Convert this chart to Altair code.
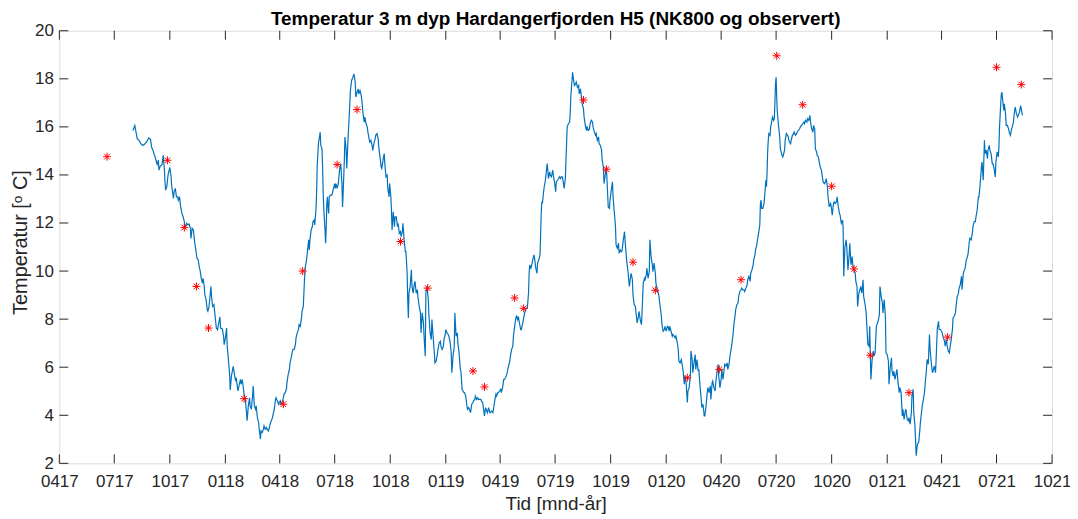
import altair as alt
import pandas as pd

# ---------------- data ----------------
# Day offsets are counted from REF_DATE (2017-10-01)
REF_DATE = "2017-10-01"

model_day_1 = [-61,-58,-56,-54,-51,-48,-45,-41,-38,-35,-32,-30,-28,-26,-24,-23,-21,-19,-18,-16,-13,-11,-9,-8,-7,-5,-3,0,2,3,6,7,9,11,13,14,16,18,20,22,24,25,28,30,32,34,35,37,39,41,43,45,47,49,50,52,54,55,57,58,60,62,63,65,67,68,69,71,73,75,77,79,81,83,84,87,89,90,92,94,95,97,99,100,102,104]
model_temp_1 = [15.85,16.06,15.78,15.51,15.44,15.30,15.23,15.30,15.40,15.54,15.48,15.14,15.03,14.86,14.72,14.61,14.44,14.61,14.20,14.36,14.43,14.82,14.20,13.71,13.37,13.51,13.99,14.31,13.95,13.57,13.02,13.30,13.44,13.09,13.09,12.95,13.09,12.67,12.40,12.26,12.06,11.78,11.99,11.92,11.96,11.78,11.36,11.78,11.71,11.23,10.88,10.53,10.47,10.12,10.05,9.70,9.50,9.70,9.36,9.02,8.81,8.39,8.33,8.53,9.08,9.36,8.95,8.53,8.60,8.12,7.63,7.56,7.84,8.09,7.63,7.59,7.29,6.94,7.22,7.63,6.87,6.32,5.70,5.05,5.63,5.91]

model_day_2 = [105,107,109,110,112,113,115,117,118,120,122,123,125,127,128,130,132,133,135,137,138,140,142,143,145,147,148,150,151,153,155,156,158,160,161,163,165,166,168,170,171,173,175,176,178,180,181,183,184,186,188,189,191,193,194,196,198,199,201,203,204,206,208,209,211,213,214,216,218,219,221,222,223,224,226,227,229,230,231,232,234,235,236,237,239,240,241,242,243,244,246,247,249,250,252,253,254,255,257,258,259,260,261,262,263,264,266,268,269,271,273,274,275,277,279,280,281,283,285,286,287,289,290,292,293,295,297]
model_temp_2 = [6.04,5.70,5.42,5.56,5.15,5.01,5.29,5.49,5.29,5.49,5.08,4.87,4.66,4.11,3.77,4.39,4.73,4.39,4.25,4.80,5.22,4.39,4.25,4.39,3.90,3.70,3.42,3.01,3.35,3.28,3.42,3.56,3.42,3.49,3.42,3.35,3.49,3.63,3.77,3.90,4.04,4.25,4.66,4.73,4.60,4.46,4.53,4.60,4.46,4.53,4.73,4.87,4.94,5.08,5.36,5.70,5.91,6.18,6.39,6.67,6.74,6.74,6.94,7.22,7.43,7.56,7.77,7.70,8.05,8.32,8.53,9.08,9.64,10.12,10.40,10.60,11.09,11.30,10.88,11.30,11.71,11.78,11.85,12.06,12.12,11.92,12.26,12.54,13.23,14.33,15.30,15.44,15.78,15.23,15.09,14.33,13.23,12.54,11.71,11.16,11.85,12.81,13.09,12.67,12.40,13.09,13.16,13.16,13.23,13.44,13.64,13.44,13.64,13.44,13.64,13.92,14.20,14.47,13.64,12.67,13.23,14.61,15.58,15.03,14.27,15.44,16.41]

model_day_3 = [299,301,303,305,307,308,310,312,313,315,317,318,320,322,323,325,327,328,330,331,333,335,336,338,340,341,343,345,346,348,350,351,353,355,356,358,360,361,363,364,366,367,368,370,372,373,375,377,378,380,382,383,385,386,388,390,391,393,394,395,396,398,400,401,403,405,406,408,410,411,413,415,416,418,420,421,423,424,426,428,429,431,433,434,436,438,439,441,443,444,446,448,449,451,453,454,456,457,459,461,462,464,466,467,469,471,472,474,476,477,479,481,482,484]
model_temp_3 = [17.51,17.93,18.06,18.20,17.86,17.24,17.44,17.58,17.37,17.51,17.30,17.10,16.54,16.20,16.41,16.13,15.99,15.78,15.51,15.37,15.44,15.23,15.02,15.30,15.51,15.65,15.72,15.51,15.16,14.75,14.33,14.27,14.61,14.89,14.47,13.92,13.99,13.44,13.09,13.64,13.09,12.54,11.71,12.47,11.85,12.26,12.26,11.85,11.99,11.57,11.64,11.43,11.64,11.99,11.30,10.81,10.81,9.91,8.81,8.05,9.08,9.36,10.05,9.36,9.08,9.50,9.57,9.08,9.22,8.88,8.53,8.26,7.43,8.26,7.84,7.29,6.46,9.08,9.36,8.81,8.19,7.43,7.15,7.98,7.29,6.60,6.18,6.25,6.53,6.74,7.01,7.08,6.87,6.74,6.87,7.15,7.36,7.56,7.43,7.36,7.29,7.08,6.60,5.77,6.46,6.87,8.26,7.29,7.43,7.01,6.60,5.91,5.84,5.08]

model_day_4 = [487,488,490,492,493,495,497,498,500,502,503,505,506,508,510,511,513,515,516,518,520,521,523,525,526,528,530,531,533,535,536,538,540,541,543,544,546,548,549,551,553,554,556,558,559,561,563,564,566,568,569,571,573,574,576,577,579,581,582,584,586,587,589,591,592,594,595,596,598,600,601,603,604,606,608,609,611,613,614,615,616,617,619,620,622,624,625,627,629,630,632,634,635,637,639,640,642,644,645,647,648,650,652,653,655,657,658,660,662,663,664,666,667,668,670,672]
model_temp_4 = [4.94,4.94,4.80,4.39,4.25,4.32,4.18,4.11,4.46,4.53,4.60,4.66,4.80,4.66,4.73,4.66,4.66,4.66,4.60,4.53,4.18,3.97,4.32,4.18,4.11,4.32,4.11,4.11,4.18,4.11,4.25,4.60,4.87,4.80,4.94,4.94,5.01,5.08,4.94,5.15,5.49,5.49,5.56,5.70,5.84,6.05,6.25,6.46,6.74,6.87,7.29,7.70,8.05,8.12,7.98,8.12,7.84,7.56,7.56,7.77,8.05,8.19,8.40,8.46,8.46,9.08,9.91,10.26,10.12,10.33,10.47,10.67,10.53,10.12,9.91,10.33,10.47,10.67,11.50,12.40,12.88,12.81,13.30,13.51,13.78,14.27,14.47,13.85,14.13,13.99,13.92,14.20,13.99,13.71,13.30,13.71,13.78,13.85,13.92,13.85,13.92,13.92,13.64,13.44,13.85,15.30,15.99,16.13,16.20,16.54,17.24,17.93,18.27,18.06,17.72,17.79]

model_day_5 = [673,675,677,678,680,682,683,685,686,688,690,691,693,695,696,698,700,701,703,705,706,708,710,711,713,715,716,718,719,721,723,724,726,728,729,731,733,734,736,738,739,741,743,744,746,748,749,751,753,754,756,757,759,761,762,764,766,767,769,771,772,774,776,777,779,781,782,784,786,787,789,790,792,794,795,797,799,800,802,804,805,807,809,810,812,814,815,817,819,820,822,824,825,827,828,830,832,833,835,837,838,840,842,843,845,847,848,850,852,853,855,857,858,860]
model_temp_5 = [17.86,17.65,17.72,17.37,17.58,17.17,16.96,16.75,16.41,16.06,15.85,15.99,15.85,15.92,16.13,16.27,16.20,15.99,15.78,15.65,15.72,15.44,15.58,15.30,15.23,15.02,14.61,14.33,13.64,13.99,14.33,13.78,12.67,12.61,12.95,13.37,13.71,13.09,12.47,11.85,11.09,10.95,11.16,10.74,10.88,10.81,10.88,11.30,11.64,11.23,10.60,10.33,9.91,9.36,9.57,9.91,9.64,9.02,8.60,8.53,8.26,7.84,8.12,8.32,7.98,7.77,8.26,9.50,9.70,9.64,9.84,10.12,9.70,9.98,11.30,10.60,10.26,9.98,10.33,9.91,9.50,9.22,9.08,8.95,8.53,8.12,7.77,7.50,7.57,7.70,7.50,7.70,7.70,7.50,7.70,7.50,7.29,7.36,7.29,7.22,7.29,7.08,6.74,6.25,6.18,6.32,6.18,5.84,5.29,5.63,5.35,4.53,5.01,5.15]

model_day_6 = [862,863,865,866,868,870,871,873,875,876,878,880,881,883,885,886,888,890,891,893,895,896,898,899,901,903,904,906,908,909,911,913,914,916,918,919,921,923,924,926,928,929,931,933,934,936,937,939,941,942,944,946,947,949,951,952,954,956,957,959,961,962,964,966,967,969,970,972,974,975,977,978,979,980,982,984,985,987,988,989,990,991,992,994,995,996,998,1000,1001,1002,1003,1004,1005,1006,1008,1010,1011,1013,1015,1016,1018,1019,1021,1023,1024,1026,1028,1029,1031,1033,1034,1036,1038,1039,1041,1043,1044,1046]
model_temp_6 = [5.63,6.67,6.32,5.77,6.18,6.53,5.91,6.32,5.84,5.91,5.22,4.66,4.32,4.46,3.97,3.97,4.39,4.94,5.15,4.94,5.22,4.66,5.35,5.42,5.15,5.01,5.35,5.77,6.12,5.63,5.15,5.49,5.91,5.49,5.91,6.12,6.05,6.18,5.91,6.12,6.53,6.67,7.01,7.43,7.77,8.12,8.39,8.60,8.67,8.95,9.15,9.22,9.29,9.22,9.22,9.15,9.29,9.43,9.64,9.78,9.57,9.91,10.05,10.26,10.47,10.67,10.88,11.09,11.43,11.57,11.92,12.81,12.95,12.61,12.61,12.81,13.09,13.78,13.51,14.06,14.96,15.44,15.72,15.65,16.00,16.13,16.41,16.27,16.33,16.96,17.79,18.06,17.24,16.61,16.06,15.58,15.09,14.89,14.75,14.82,15.03,15.44,15.72,15.65,15.58,15.37,15.30,15.44,15.65,15.72,15.79,15.65,15.72,15.79,15.85,15.92,15.99,16.06]

model_day_7 = [1048,1050,1051,1053,1055,1056,1058,1060,1061,1063,1065,1066,1068,1069,1071,1072,1074,1076,1077,1079,1081,1082,1084,1086,1087,1089,1090,1092,1094,1095,1097,1099,1100,1102,1104,1105,1107,1109,1110,1112,1114,1115,1116,1118,1120,1121,1123,1125,1126,1128,1130,1131,1133,1135,1136,1138,1139,1141,1143,1144,1146,1148,1149,1151,1153,1154,1156,1158,1159,1160,1161,1163,1165,1166,1168,1170,1171,1173,1175,1176,1178,1180,1181,1183,1185,1186,1188,1190,1191,1193,1195,1196,1198,1199,1201,1203,1204,1206,1208,1209,1211,1213,1214,1216,1218,1219,1221,1223,1224,1226,1228,1229,1231,1232,1234]
model_temp_7 = [16.13,16.20,16.13,16.27,16.20,16.34,16.27,16.48,16.20,15.92,15.78,16.06,15.92,15.09,14.96,14.82,14.75,14.47,14.33,14.20,13.85,13.71,13.64,13.71,13.85,13.51,13.09,12.67,12.81,12.74,12.33,12.81,12.88,12.81,12.88,13.09,12.67,12.40,12.33,11.99,12.12,11.85,9.78,11.02,11.30,11.02,10.05,10.67,11.16,10.26,10.60,10.26,10.05,9.91,9.57,9.36,8.53,9.08,9.22,9.36,9.08,9.64,8.95,8.67,8.32,7.84,6.94,6.87,7.70,6.60,5.49,6.32,6.67,6.46,6.60,7.70,7.77,7.91,8.19,9.36,8.95,8.67,8.26,8.81,8.12,6.60,6.53,6.25,5.29,5.98,6.39,5.84,5.63,5.84,5.49,5.77,5.91,5.35,4.94,5.15,4.94,3.97,4.25,3.83,4.18,4.25,3.83,3.77,3.90,3.63,4.11,4.80,5.08,4.11,3.56]

model_day_8 = [1236,1238,1240,1241,1243,1245,1246,1248,1250,1251,1253,1254,1256,1258,1259,1261,1263,1264,1266,1268,1269,1271,1273,1274,1276,1278,1279,1281,1283,1284,1286,1287,1289,1291,1292,1294,1296,1297,1299,1301,1302,1304,1306,1307,1309,1311,1312,1314,1316,1317,1319,1321,1322,1324,1325,1327,1329,1330,1332,1334,1335,1337,1339,1340,1342,1344,1345,1347,1349,1350,1352,1354,1355,1357,1358,1360,1362,1363,1365,1367,1368,1370,1372,1373,1374,1376,1377,1378,1379,1381,1382,1384,1385,1387,1389,1390,1392,1394,1395,1397,1399,1400,1402,1404,1405,1407,1409,1410,1412]
model_temp_8 = [2.32,2.80,2.87,3.08,3.70,4.18,4.39,4.66,5.01,5.35,5.91,6.32,6.12,7.36,6.74,6.18,5.77,5.84,6.05,5.77,6.32,7.63,7.91,7.57,7.57,7.50,7.43,7.22,7.08,6.88,7.15,6.94,6.67,6.60,6.81,7.15,7.57,8.05,8.12,8.26,8.53,8.95,9.08,9.29,9.43,9.78,9.22,9.91,10.05,10.12,10.47,10.60,10.74,11.23,11.37,11.30,11.57,11.85,12.06,12.06,12.26,12.54,13.09,13.09,13.64,14.33,14.54,13.78,15.44,14.89,15.03,14.68,15.03,15.23,15.03,14.89,14.47,14.47,14.27,13.92,14.54,14.96,14.75,15.16,15.99,16.96,17.37,17.44,17.17,16.68,16.96,16.55,16.06,16.06,15.92,15.78,15.65,15.92,15.99,16.20,16.68,16.82,16.55,16.41,16.48,16.61,16.89,16.75,16.48]

# Observations (red asterisks)
obs_day = [-104,-4,24,44,64,123,188,220,277,310,382,427,502,521,571,586,685,723,767,804,857,910,946,1005,1048,1096,1133,1160,1224,1288,1369,1410]
obs_temp = [14.76,14.61,11.81,9.36,7.63,4.69,4.46,10.00,14.43,16.72,11.23,9.29,5.84,5.18,8.88,8.45,17.12,14.24,10.37,9.20,5.56,5.91,9.64,18.96,16.92,13.53,10.09,6.50,4.94,7.25,18.48,17.76]

# Axis ticks
x_tick_dates = ["2017-04-01","2017-07-01","2017-10-01","2018-01-01","2018-04-01","2018-07-01",
                "2018-10-01","2019-01-01","2019-04-01","2019-07-01","2019-10-01","2020-01-01",
                "2020-04-01","2020-07-01","2020-10-01","2021-01-01","2021-04-01","2021-07-01",
                "2021-10-01"]
y_tick_values = [2, 4, 6, 8, 10, 12, 14, 16, 18, 20]

TITLE = "Temperatur 3 m dyp Hardangerfjorden H5 (NK800 og observert)"
X_TITLE = "Tid [mnd-år]"
Y_TITLE = "Temperatur [ᵒ C]"

# ---------------- build tables ----------------
ref = pd.Timestamp(REF_DATE)
model_days = (model_day_1 + model_day_2 + model_day_3 + model_day_4 +
              model_day_5 + model_day_6 + model_day_7 + model_day_8)
model_temps = (model_temp_1 + model_temp_2 + model_temp_3 + model_temp_4 +
               model_temp_5 + model_temp_6 + model_temp_7 + model_temp_8)
model = pd.DataFrame({"Tid": ref + pd.to_timedelta(model_days, unit="D"),
                      "Temperatur": model_temps})
obs = pd.DataFrame({"Tid": ref + pd.to_timedelta(obs_day, unit="D"),
                    "Temperatur": obs_temp})
xt = pd.DataFrame({"Tid": pd.to_datetime(x_tick_dates)})
yt = pd.DataFrame({"Temperatur": y_tick_values})


def dt(s):
    t = pd.Timestamp(s)
    return alt.DateTime(year=t.year, month=t.month, date=t.day)


FONT = "Liberation Sans, Arial, Helvetica, sans-serif"
AXC = "#262626"
W, H = 996, 434
TICK = 9

xscale = alt.Scale(domain=[dt(x_tick_dates[0]), dt(x_tick_dates[-1])], nice=False)
yscale = alt.Scale(domain=[y_tick_values[0], y_tick_values[-1]], nice=False, zero=False)

x_axis = alt.Axis(values=[dt(d) for d in x_tick_dates], format="%m%y",
                  labelFlush=False, labelOverlap=False, ticks=False, tickSize=0,
                  domain=False, grid=False, labelFontSize=17, labelPadding=10,
                  labelColor=AXC, labelFont=FONT,
                  title=X_TITLE, titleFontSize=19, titleFontWeight="normal",
                  titleFont=FONT, titleColor=AXC, titleY=46,
                  titleBaseline="alphabetic")
y_axis = alt.Axis(values=y_tick_values, ticks=False, tickSize=0, domain=False,
                  grid=False, labelFontSize=17, labelPadding=6, labelColor=AXC,
                  labelFont=FONT,
                  title=Y_TITLE, titleFontSize=20, titleFontWeight="normal",
                  titleFont=FONT, titleColor=AXC, titleX=-33, titleY=H / 2 - 5,
                  titleAngle=270, titleBaseline="alphabetic", titleAlign="center")

line = alt.Chart(model).mark_line(color="#0072BD", strokeWidth=1.2).encode(
    x=alt.X("Tid:T", scale=xscale, axis=x_axis),
    y=alt.Y("Temperatur:Q", scale=yscale, axis=y_axis),
)

STAR = ("M0,-1L0,1M-1,0L1,0M-0.7071,-0.7071L0.7071,0.7071"
        "M-0.7071,0.7071L0.7071,-0.7071")
points = alt.Chart(obs).mark_point(shape=STAR, filled=False, color="#FF0000",
                                   strokeWidth=1, size=64, opacity=1).encode(
    x=alt.X("Tid:T", scale=xscale),
    y=alt.Y("Temperatur:Q", scale=yscale),
)

tick_style = dict(color=AXC, strokeWidth=1)
bottom_ticks = alt.Chart(xt).mark_rule(**tick_style).encode(
    x=alt.X("Tid:T", scale=xscale), y=alt.value(H), y2=alt.value(H - TICK))
top_ticks = alt.Chart(xt).mark_rule(**tick_style).encode(
    x=alt.X("Tid:T", scale=xscale), y=alt.value(0), y2=alt.value(TICK))
left_ticks = alt.Chart(yt).mark_rule(**tick_style).encode(
    y=alt.Y("Temperatur:Q", scale=yscale), x=alt.value(0), x2=alt.value(TICK))
right_ticks = alt.Chart(yt).mark_rule(**tick_style).encode(
    y=alt.Y("Temperatur:Q", scale=yscale), x=alt.value(W), x2=alt.value(W - TICK))

chart = alt.layer(line, points, bottom_ticks, top_ticks, left_ticks, right_ticks).properties(
    width=W, height=H,
    title=alt.Title(TITLE, fontSize=19, fontWeight="bold", font=FONT, color="#000000",
                    anchor="middle", frame="group", offset=7, dy=29,
                    baseline="alphabetic"),
    padding={"left": 51.5, "top": 22, "right": 18, "bottom": 50},
    autosize=alt.AutoSizeParams(type="none"),
).configure_view(stroke=AXC, strokeWidth=1).configure(background="white")

chart.save("out.html", embed_options={"renderer": "svg", "actions": False})
